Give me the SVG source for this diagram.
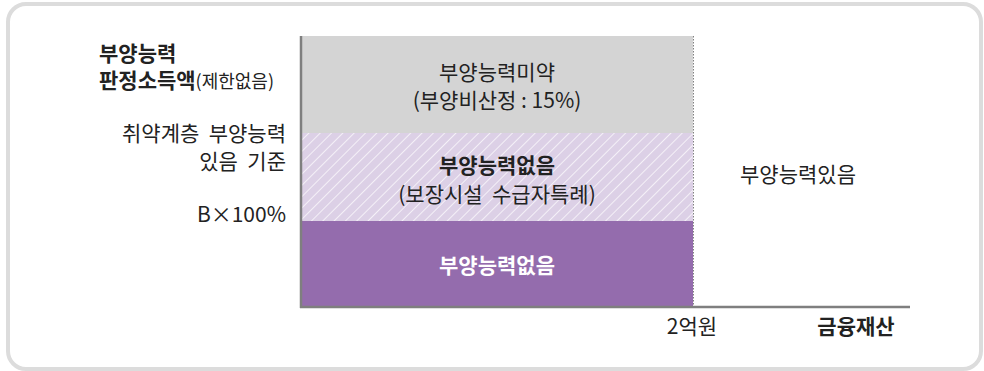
<svg xmlns="http://www.w3.org/2000/svg" width="984" height="371" viewBox="0 0 984 371">
<style>
text{font-family:"Noto Sans CJK KR","Noto Sans",sans-serif;font-size:21px;fill:#222;}
.b{font-weight:bold;}
.c{text-anchor:middle;}
.r{text-anchor:end;}
.w{fill:#ffffff;}
.axis{stroke:#7f7f7f;stroke-width:2.5;fill:none;}
</style>
<defs>
<pattern id="hatch" width="8" height="8" patternUnits="userSpaceOnUse" patternTransform="rotate(45)">
<rect width="8" height="8" fill="#dcd0e6"/>
<line x1="0" y1="0" x2="0" y2="8" stroke="#ffffff" stroke-width="1.6" stroke-opacity="0.85"/>
</pattern>
</defs>
<rect x="8" y="4" width="973" height="365" rx="18" ry="18" fill="#ffffff" stroke="#dcdcdc" stroke-width="4"/>
<g id="region-weak">
<rect x="302" y="36" width="391" height="97" fill="#d4d4d4"/>
<text class="c" x="497" y="80">부양능력미약</text>
<text class="c" x="497" y="108">(부양비산정 : 15%)</text>
</g>
<g id="region-special">
<rect x="302" y="133" width="391" height="88" fill="url(#hatch)"/>
<text class="c b" x="497" y="173">부양능력없음</text>
<text class="c" x="497" y="202" xml:space="preserve">(보장시설  수급자특례)</text>
</g>
<g id="region-none">
<rect x="302" y="221" width="391" height="85" fill="#946cad"/>
<text class="c b w" x="497" y="273">부양능력없음</text>
</g>
<g id="region-capable">
<text class="c" x="798" y="182">부양능력있음</text>
</g>
<g id="axes">
<line class="axis" x1="301" y1="36" x2="301" y2="308"/>
<line class="axis" x1="300" y1="307" x2="910" y2="307"/>
<line x1="693.5" y1="36" x2="693.5" y2="306" stroke="#808080" stroke-width="1" stroke-dasharray="1.5,1.5"/>
</g>
<g id="labels">
<text class="b" x="99" y="61">부양능력</text>
<text x="99" y="88"><tspan class="b">판정소득액</tspan><tspan font-size="18">(제한없음)</tspan></text>
<text class="r" x="286" y="141" xml:space="preserve">취약계층  부양능력</text>
<text class="r" x="286" y="169" xml:space="preserve">있음  기준</text>
<text class="r" x="286" y="222">B×100%</text>
<text class="c" x="692" y="334">2억원</text>
<text class="c b" x="856" y="334">금융재산</text>
</g>
</svg>
